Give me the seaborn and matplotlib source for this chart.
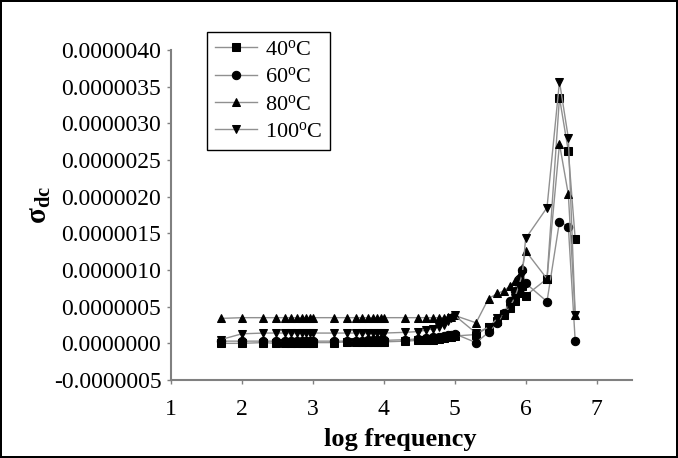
import matplotlib
matplotlib.use('Agg')
import matplotlib.pyplot as plt
import seaborn as sns
import pandas as pd
import numpy as np
from matplotlib.ticker import FuncFormatter

# measuring frequencies (Hz)
freqs = [50, 100, 200, 300, 400, 500, 600, 700, 800, 900,
         1e3, 2e3, 3e3, 4e3, 5e3, 6e3, 7e3, 8e3, 9e3,
         1e4, 2e4, 3e4, 4e4, 5e4, 6e4, 7e4, 8e4, 9e4,
         1e5, 2e5, 3e5, 4e5, 5e5, 6e5, 7e5, 8e5, 9e5,
         1e6, 2e6, 3e6, 4e6, 5e6]

# sigma_dc values, in units of 1e-6
s40 = [0.00, 0.00, 0.01, 0.00, 0.00, 0.01, 0.01, 0.01, 0.01, 0.01,
       0.01, 0.01, 0.02, 0.02, 0.02, 0.02, 0.02, 0.02, 0.02,
       0.02, 0.03, 0.04, 0.05, 0.05, 0.06, 0.07, 0.08, 0.09,
       0.10, 0.12, 0.22, 0.30, 0.38, 0.48, 0.58, 0.68, 0.78,
       0.65, 0.88, 3.35, 2.62, 1.42]
s60 = [0.03, 0.03, 0.03, 0.03, 0.03, 0.03, 0.03, 0.03, 0.03, 0.03,
       0.03, 0.03, 0.03, 0.03, 0.03, 0.04, 0.04, 0.04, 0.04,
       0.04, 0.05, 0.06, 0.07, 0.08, 0.09, 0.10, 0.11, 0.12,
       0.13, 0.01, 0.15, 0.28, 0.42, 0.58, 0.72, 0.88, 1.00,
       0.82, 0.57, 1.66, 1.59, 0.03]
s80 = [0.34, 0.35, 0.35, 0.35, 0.35, 0.35, 0.35, 0.35, 0.35, 0.35,
       0.35, 0.35, 0.35, 0.35, 0.35, 0.35, 0.35, 0.35, 0.35,
       0.35, 0.35, 0.35, 0.35, 0.35, 0.35, 0.35, 0.36, 0.36,
       0.38, 0.28, 0.61, 0.68, 0.72, 0.78, 0.85, 0.92, 1.03,
       1.26, 0.88, 2.72, 2.03, 0.38]
s100 = [0.05, 0.13, 0.14, 0.14, 0.14, 0.14, 0.14, 0.14, 0.14, 0.14,
        0.14, 0.14, 0.14, 0.14, 0.14, 0.14, 0.14, 0.14, 0.14,
        0.14, 0.15, 0.16, 0.18, 0.20, 0.22, 0.25, 0.30, 0.34,
        0.38, 0.14, 0.22, 0.34, 0.40, 0.50, 0.62, 0.78, 0.95,
        1.43, 1.85, 3.57, 2.80, 0.38]

labels = ['40$^\\mathrm{o}$C', '60$^\\mathrm{o}$C', '80$^\\mathrm{o}$C', '100$^\\mathrm{o}$C']
markers = ['s', 'o', '^', 'v']

plt.rcParams['font.family'] = ['Liberation Serif', 'DejaVu Serif']
plt.rcParams['mathtext.fontset'] = 'custom'
plt.rcParams['mathtext.rm'] = 'Liberation Serif'
plt.rcParams['mathtext.it'] = 'Liberation Serif:italic'
plt.rcParams['mathtext.bf'] = 'Liberation Serif:bold'

logf = np.log10(freqs)

fig = plt.figure(figsize=(6.78, 4.58), dpi=100, linewidth=1.5, edgecolor='black')
ax = fig.add_axes([0.2522, 0.1703, 0.68, 0.7205])

for vals, lab, m in zip([s40, s60, s80, s100], labels, markers):
    df = pd.DataFrame({'x': logf, 'y': np.array(vals) * 1e-6})
    sns.lineplot(data=df, x='x', y='y', ax=ax, color='#909090', linewidth=1,
                 marker=m, markersize=5.5 if m != 'o' else 6,
                 markerfacecolor='black', markeredgecolor='black', label=lab)

ax.set_xlim(1, 7.5)
ax.set_ylim(-0.0000005, 0.0000040)
ax.set_xticks([1, 2, 3, 4, 5, 6, 7])
ax.set_yticks(np.arange(-0.5, 4.01, 0.5) * 1e-6)
ax.yaxis.set_major_formatter(FuncFormatter(lambda v, p: f'{round(v * 1e7) / 1e7:.7f}'.replace('-0.0000000', '0.0000000')))

for s in ['top', 'right']:
    ax.spines[s].set_visible(False)
for s in ['left', 'bottom']:
    ax.spines[s].set_color('#808080')
    ax.spines[s].set_linewidth(1.5)
ax.tick_params(axis='both', labelsize=17, color='#808080', length=3, width=1)
ax.tick_params(axis='y', pad=4)
ax.tick_params(axis='x', pad=11)

ax.set_xlabel('log frequency', fontsize=19, fontweight='bold')
ax.xaxis.set_label_coords(0.497, -0.145)
ax.set_ylabel('$\\mathbf{σ_{dc}}$', fontsize=21)
ax.yaxis.set_label_coords(-0.255, 0.53)

leg = ax.legend(loc='upper left', bbox_to_anchor=(0.078, 1.055), borderaxespad=0,
                fontsize=16, frameon=True, fancybox=False, edgecolor='black',
                framealpha=1, handlelength=1.9, labelspacing=0.3, borderpad=0.35,
                handletextpad=0.35)
leg.get_frame().set_linewidth(1)

fig.savefig('out.png', dpi=100, edgecolor=fig.get_edgecolor())
